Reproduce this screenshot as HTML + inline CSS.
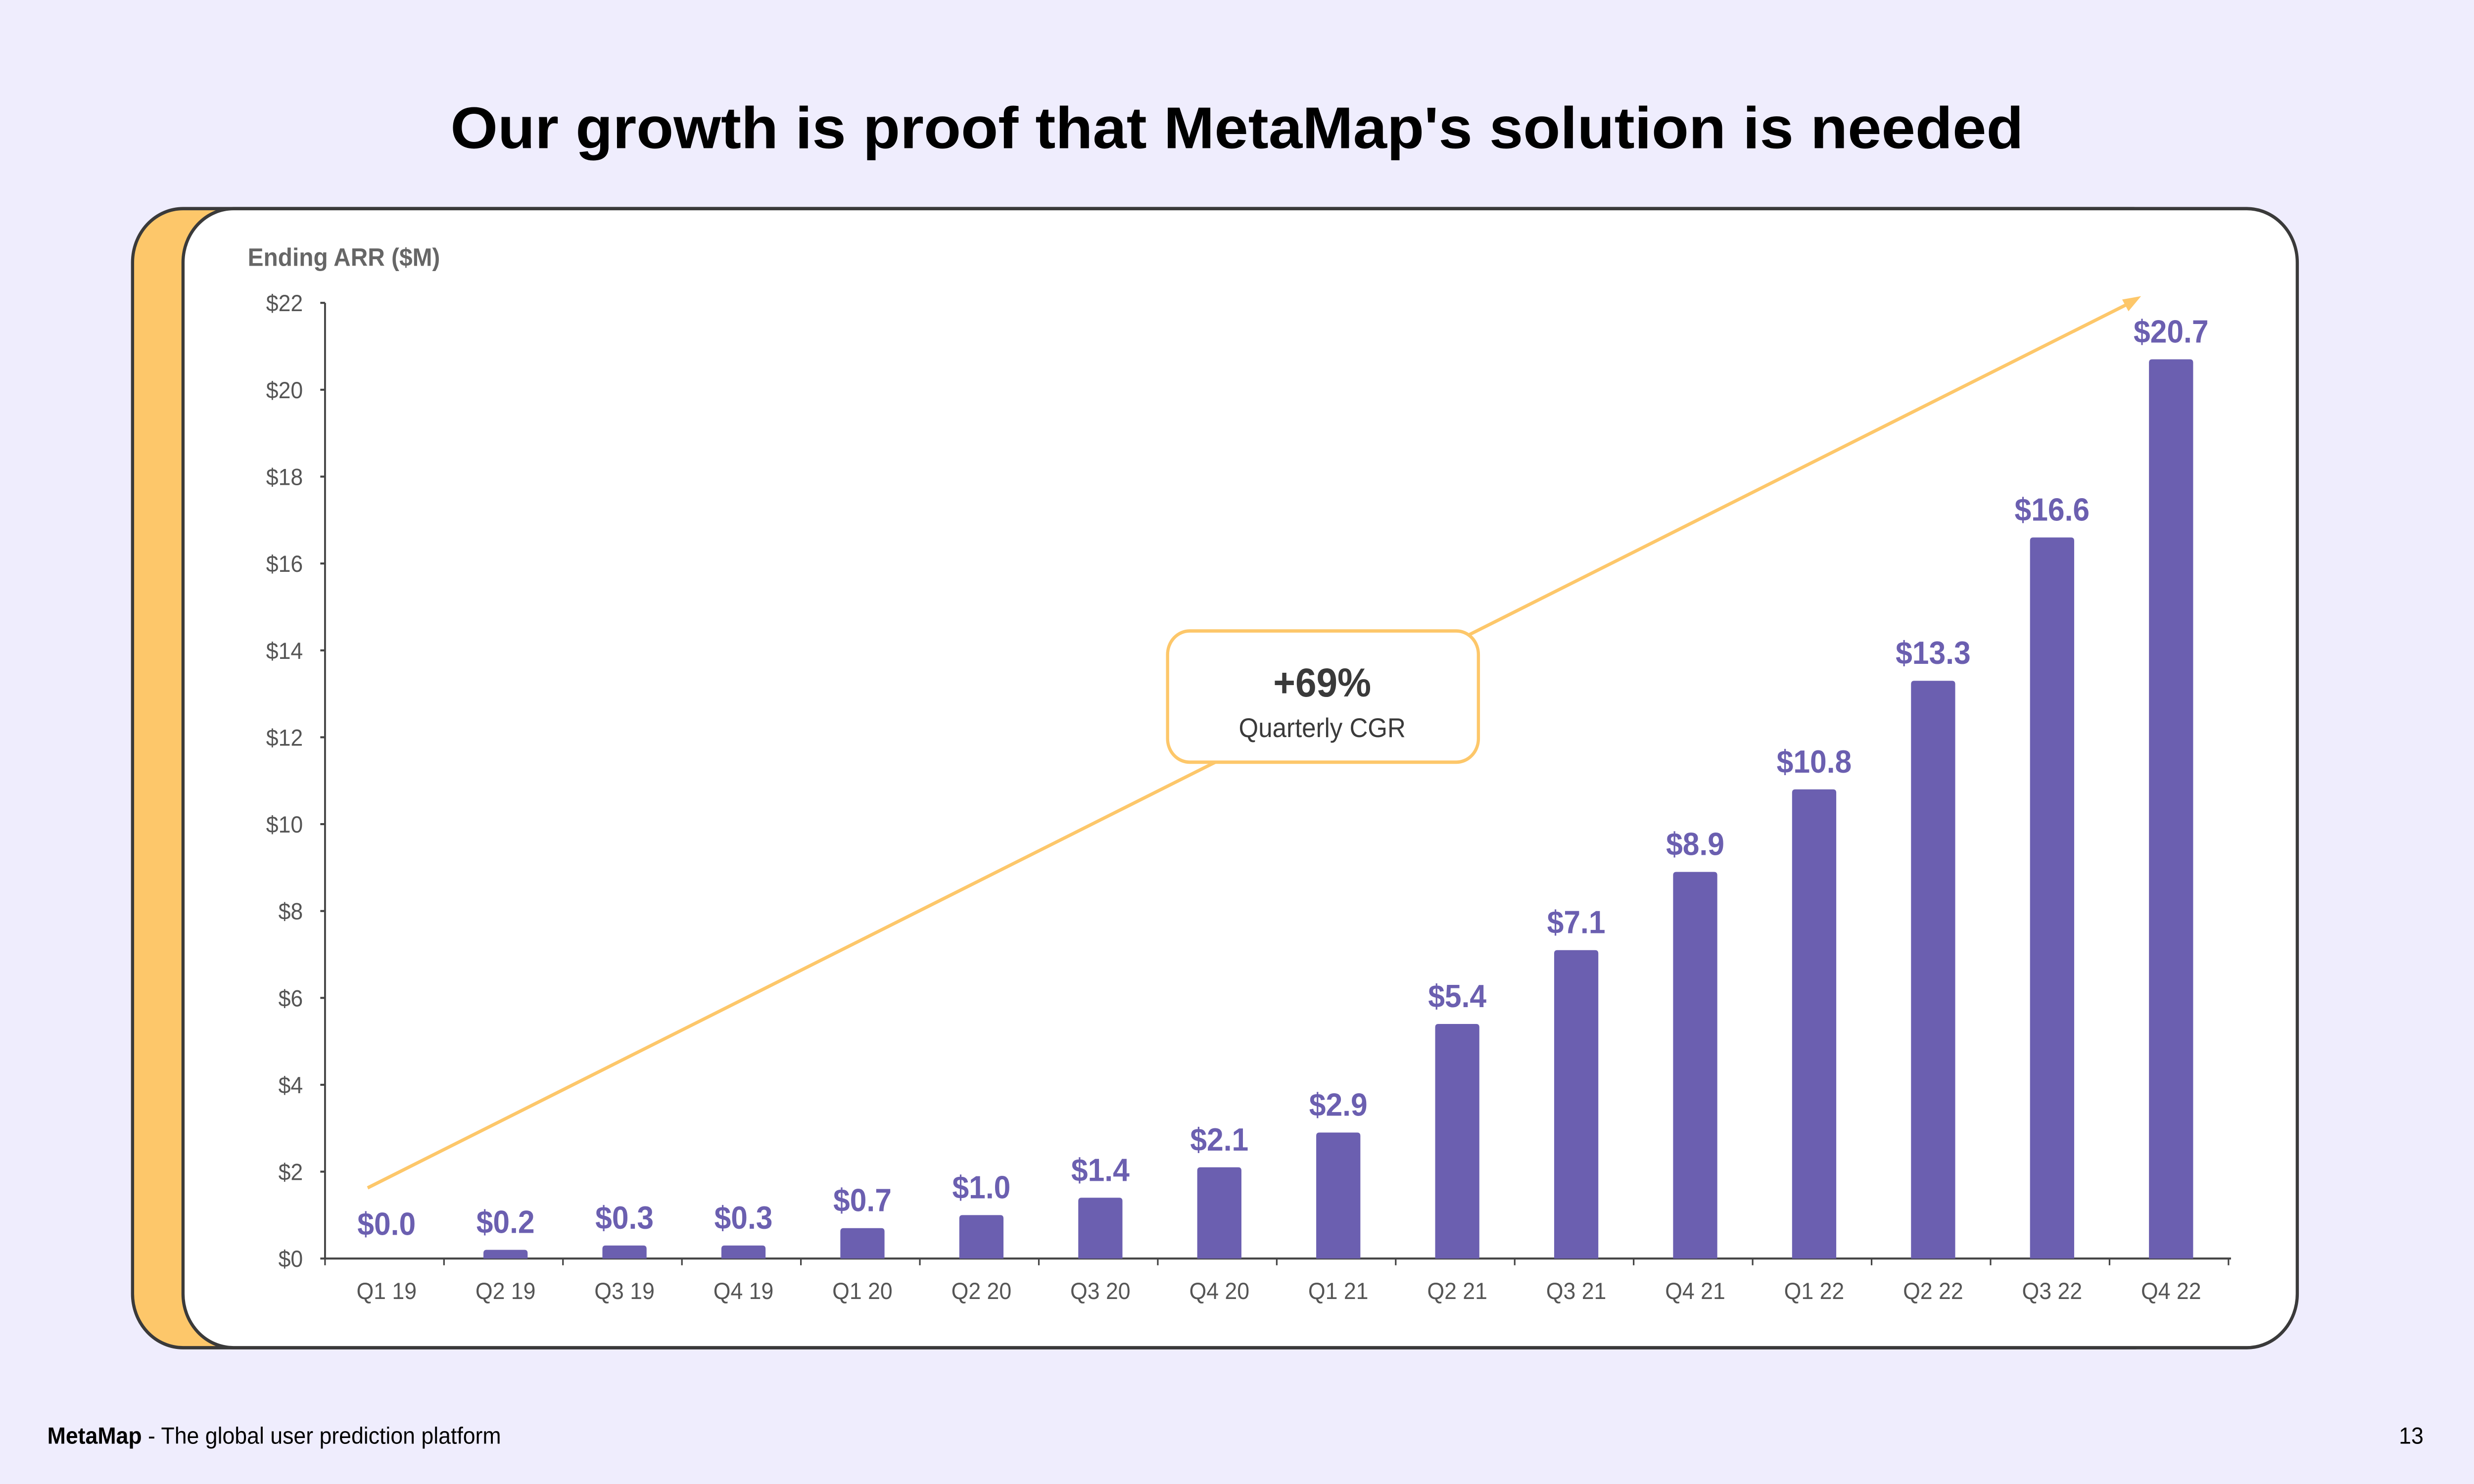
<!DOCTYPE html>
<html><head><meta charset="utf-8"><style>
html,body{margin:0;padding:0;background:#efedfd;overflow:hidden;width:100vw;height:100vh;}
svg{display:block;width:100vw;height:100vh;}
text{font-family:"Liberation Sans",sans-serif;}
</style></head><body>
<svg id="chart" viewBox="0 0 1568 882" preserveAspectRatio="none" xmlns="http://www.w3.org/2000/svg">
<rect x="0" y="0" width="1568" height="882" fill="#efedfd"/>
<text x="784" y="88" text-anchor="middle" font-size="35" font-weight="bold" fill="#000" textLength="997" lengthAdjust="spacingAndGlyphs">Our growth is proof that MetaMap's solution is needed</text>
<rect x="84" y="124" width="1300" height="677" rx="32" fill="#fdc76a" stroke="#3a3a3a" stroke-width="2"/>
<rect x="116" y="124" width="1340" height="677" rx="32" fill="#fff" stroke="#3a3a3a" stroke-width="2"/>
<text x="157" y="158" font-size="15" font-weight="bold" fill="#666">Ending ARR ($M)</text>
<g id="yaxis"></g>
<g id="xaxis"></g>
<g id="trend">
<line x1="233" y1="706" x2="1350" y2="180" stroke="#fdc76a" stroke-width="2"/>
<polygon points="1357,176 1345,178 1349,185" fill="#fdc76a"/>
</g>
<g>
<rect x="740" y="375" width="197" height="78" rx="14" fill="#fff" stroke="#fdc76a" stroke-width="2"/>
<text x="838" y="414" text-anchor="middle" font-size="24" font-weight="bold" fill="#3a3a3a">+69%</text>
<text x="838" y="438" text-anchor="middle" font-size="16" fill="#3a3a3a">Quarterly CGR</text>
</g>
<g id="bars"></g>
<text x="30" y="858" font-size="14" fill="#000"><tspan font-weight="bold">MetaMap</tspan> - The global user prediction platform</text>
<text x="1536" y="858" text-anchor="end" font-size="14" fill="#000">13</text>
</svg>
<script>
const categories = ["Q1 19","Q2 19","Q3 19","Q4 19","Q1 20","Q2 20","Q3 20","Q4 20","Q1 21","Q2 21","Q3 21","Q4 21","Q1 22","Q2 22","Q3 22","Q4 22"];
const arrValues = [0.0,0.2,0.3,0.3,0.7,1.0,1.4,2.1,2.9,5.4,7.1,8.9,10.8,13.3,16.6,20.7];
const yTicks = [0,2,4,6,8,10,12,14,16,18,20,22];

const NS = "http://www.w3.org/2000/svg";
const yMin = 0, yMax = 22, yBottom = 748, yTop = 180;
const xLeft = 206, xRight = 1414, firstX = 245, lastX = 1376;
function yScale(v){ return yBottom - (v - yMin) / (yMax - yMin) * (yBottom - yTop); }
function xScale(i){ return firstX + i * (lastX - firstX) / (categories.length - 1); }
function mk(tag, attrs, parent){
  const el = document.createElementNS(NS, tag);
  for (const k in attrs) el.setAttribute(k, attrs[k]);
  parent.appendChild(el);
  return el;
}
const yaxis = document.getElementById('yaxis');
const xaxis = document.getElementById('xaxis');
const bars = document.getElementById('bars');

const yl = mk('line', {x1: xLeft, y1: yScale(yMax), x2: xLeft, y2: yBottom, stroke: '#444', 'stroke-width': 1.2}, yaxis);


yTicks.forEach(t => {
  const y = yScale(t);
  const tk = mk('line', {x1: xLeft - 3, y1: y, x2: xLeft, y2: y, stroke: '#444', 'stroke-width': 1.2}, yaxis);
  
  
  const tx = mk('text', {x: 192, y: y + 5, 'text-anchor': 'end', 'font-size': 14, fill: '#555'}, yaxis);
  tx.textContent = '$' + t;
  
  
});
const xl = mk('line', {x1: xLeft, y1: yBottom, x2: xRight, y2: yBottom, stroke: '#444', 'stroke-width': 1.2}, xaxis);


const step = (lastX - firstX) / (categories.length - 1);
for (let i = 0; i <= categories.length; i++) {
  const x = xLeft + i * step;
  const tk = mk('line', {x1: x, y1: yBottom, x2: x, y2: yBottom + 4, stroke: '#444', 'stroke-width': 1}, xaxis);
  
  
}
categories.forEach((c, i) => {
  const tx = mk('text', {x: xScale(i), y: 772, 'text-anchor': 'middle', 'font-size': 14, fill: '#555'}, xaxis);
  tx.textContent = c;
  
  
});
const bw = 28;
arrValues.forEach((v, i) => {
  const x = xScale(i), top = yScale(v), h = yBottom - top;
  if (h > 0.5) {
    const r = Math.min(2, h / 2);
    const b = mk('path', {d: `M${x-bw/2},${yBottom} L${x-bw/2},${top+r} Q${x-bw/2},${top} ${x-bw/2+r},${top} L${x+bw/2-r},${top} Q${x+bw/2},${top} ${x+bw/2},${top+r} L${x+bw/2},${yBottom} Z`, fill: '#6b5fb0'}, bars);
    
    
  }
  const lb = mk('text', {x: x, y: Math.min(top, yBottom - 4) - 10, 'text-anchor': 'middle', 'font-size': 19, 'font-weight': 'bold', fill: '#6b5fb0'}, bars);
  lb.textContent = '$' + v.toFixed(1);
  
  
});
</script>
</body></html>
